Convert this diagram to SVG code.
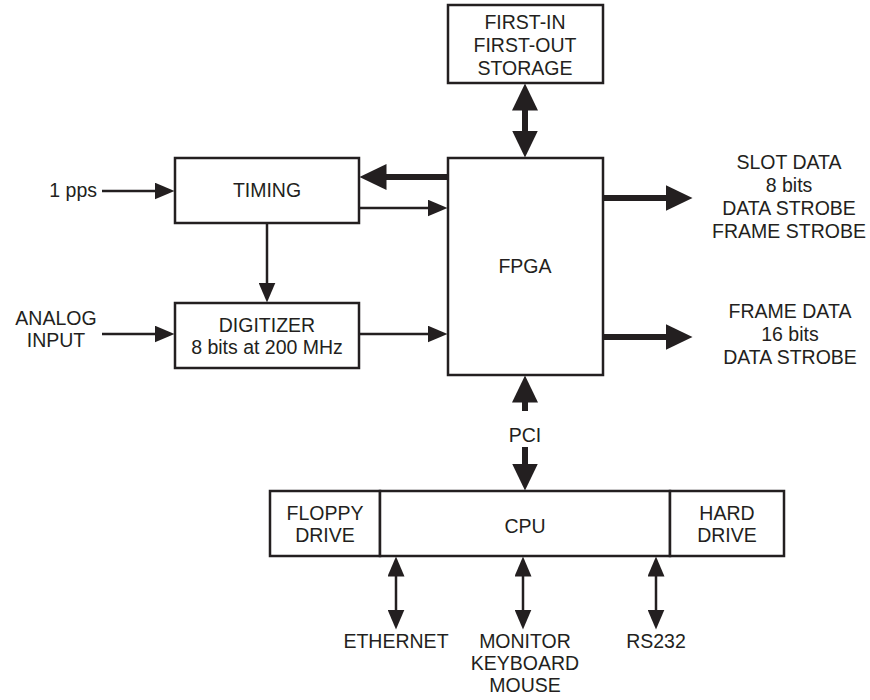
<svg xmlns="http://www.w3.org/2000/svg" width="870" height="700" viewBox="0 0 870 700">
<defs>
<style>
.box{fill:#fff;stroke:#231f20;stroke-width:2.5}
.t{font-family:"Liberation Sans",Arial,sans-serif;font-size:19.5px;fill:#231f20;text-anchor:middle}
.tr{text-anchor:end}
.thin{stroke:#231f20;stroke-width:2.5;fill:none}
.thick{stroke:#231f20;stroke-width:6;fill:none}
</style>
<marker id="ah" markerUnits="userSpaceOnUse" viewBox="0 0 20 17" refX="0.5" refY="8.5" markerWidth="20" markerHeight="17" orient="auto-start-reverse"><path d="M0,0 L20,8.5 L0,17 z" fill="#231f20"/></marker>
<marker id="ahb" markerUnits="userSpaceOnUse" viewBox="0 0 27 26" refX="0.5" refY="13" markerWidth="27" markerHeight="26" orient="auto-start-reverse"><path d="M0,0 L27,13 L0,26 z" fill="#231f20"/></marker>
</defs>
<rect width="870" height="700" fill="#fff"/>
<g id="connectors">
<line class="thin" x1="102" y1="191" x2="155" y2="191" marker-end="url(#ah)"/>
<line class="thin" x1="359" y1="208" x2="428" y2="208" marker-end="url(#ah)"/>
<line class="thick" x1="448" y1="177" x2="386" y2="177" marker-end="url(#ahb)"/>
<line class="thin" x1="267" y1="223" x2="267" y2="283" marker-end="url(#ah)"/>
<line class="thin" x1="102" y1="334" x2="155" y2="334" marker-end="url(#ah)"/>
<line class="thin" x1="359" y1="334" x2="428" y2="334" marker-end="url(#ah)"/>
<line class="thick" x1="525" y1="110" x2="525" y2="131" marker-start="url(#ahb)" marker-end="url(#ahb)"/>
<line class="thick" x1="603" y1="198" x2="666" y2="198" marker-end="url(#ahb)"/>
<line class="thick" x1="603" y1="337" x2="666" y2="337" marker-end="url(#ahb)"/>
<line class="thick" x1="525" y1="411" x2="525" y2="402" marker-end="url(#ahb)"/>
<line class="thick" x1="525" y1="447" x2="525" y2="464" marker-end="url(#ahb)"/>
<line class="thin" x1="396" y1="576" x2="396" y2="610" marker-start="url(#ah)" marker-end="url(#ah)"/>
<line class="thin" x1="523" y1="576" x2="523" y2="610" marker-start="url(#ah)" marker-end="url(#ah)"/>
<line class="thin" x1="656" y1="576" x2="656" y2="610" marker-start="url(#ah)" marker-end="url(#ah)"/>
<text class="t" x="525" y="442">PCI</text>
</g>
<g id="fifo">
<rect class="box" x="448" y="5" width="155" height="78"/>
<text class="t" x="525" y="29">FIRST-IN</text>
<text class="t" x="525" y="52">FIRST-OUT</text>
<text class="t" x="525" y="75">STORAGE</text>
</g>
<g id="timing">
<rect class="box" x="175" y="158" width="184" height="65"/>
<text class="t" x="267" y="197">TIMING</text>
</g>
<g id="digitizer">
<rect class="box" x="175" y="303" width="184" height="65"/>
<text class="t" x="267" y="332">DIGITIZER</text>
<text class="t" x="267" y="354">8 bits at 200 MHz</text>
</g>
<g id="fpga">
<rect class="box" x="448" y="158" width="155" height="217"/>
<text class="t" x="525" y="273">FPGA</text>
</g>
<g id="pps"><text class="t tr" x="97" y="197">1 pps</text></g>
<g id="analog">
<text class="t" x="56" y="325">ANALOG</text>
<text class="t" x="56" y="347">INPUT</text>
</g>
<g id="slot">
<text class="t" x="789" y="169">SLOT DATA</text>
<text class="t" x="789" y="192">8 bits</text>
<text class="t" x="789" y="215">DATA STROBE</text>
<text class="t" x="789" y="238">FRAME STROBE</text>
</g>
<g id="frame">
<text class="t" x="790" y="318">FRAME DATA</text>
<text class="t" x="790" y="341">16 bits</text>
<text class="t" x="790" y="364">DATA STROBE</text>
</g>
<g id="floppy">
<rect class="box" x="270" y="491" width="110" height="65"/>
<text class="t" x="325" y="520">FLOPPY</text>
<text class="t" x="325" y="542">DRIVE</text>
</g>
<g id="cpu">
<rect class="box" x="380" y="491" width="290" height="65"/>
<text class="t" x="525" y="533">CPU</text>
</g>
<g id="hard">
<rect class="box" x="670" y="491" width="114" height="65"/>
<text class="t" x="727" y="520">HARD</text>
<text class="t" x="727" y="542">DRIVE</text>
</g>
<g id="ethernet"><text class="t" x="396" y="648">ETHERNET</text></g>
<g id="monitor">
<text class="t" x="525" y="648">MONITOR</text>
<text class="t" x="525" y="670">KEYBOARD</text>
<text class="t" x="525" y="692">MOUSE</text>
</g>
<g id="rs232"><text class="t" x="656" y="648">RS232</text></g>
</svg>
